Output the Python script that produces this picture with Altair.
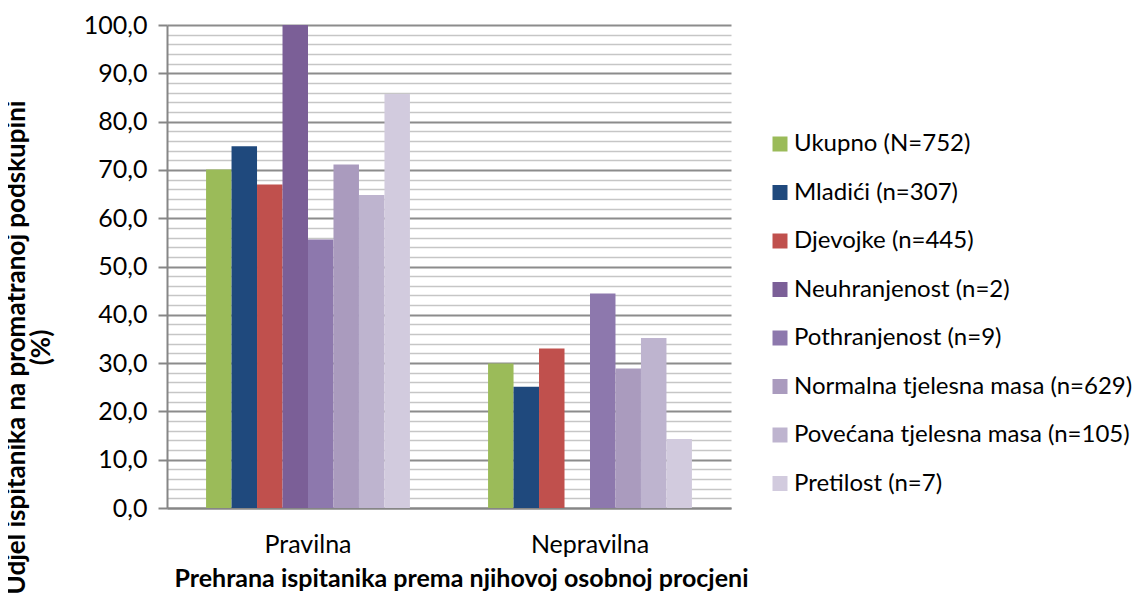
import altair as alt
import pandas as pd

categories = ["Pravilna", "Nepravilna"]
series = [
    "Ukupno (N=752)",
    "Mladići (n=307)",
    "Djevojke (n=445)",
    "Neuhranjenost (n=2)",
    "Pothranjenost (n=9)",
    "Normalna tjelesna masa (n=629)",
    "Povećana tjelesna masa (n=105)",
    "Pretilost (n=7)",
]
colors = ["#9BBB59", "#1F497D", "#C0504D", "#7B5F97", "#8D78AD", "#AA9BBE", "#BEB4CF", "#D2CBDE"]
pravilna = [70.1, 74.9, 67.0, 100.0, 55.6, 71.1, 64.8, 85.7]
nepravilna = [29.9, 25.1, 33.0, 0.0, 44.4, 28.9, 35.2, 14.3]

rows = []
for s, a, b in zip(series, pravilna, nepravilna):
    rows.append({"kat": categories[0], "serija": s, "vrijednost": a})
    rows.append({"kat": categories[1], "serija": s, "vrijednost": b})
df = pd.DataFrame(rows)

FONT = "Lato"
FS = 25
major = "datum.value % 10 == 0"

chart = alt.Chart(df).mark_bar().encode(
    x=alt.X("kat:N", sort=categories,
            scale=alt.Scale(paddingInner=0.277, paddingOuter=0.1385),
            axis=alt.Axis(title="Prehrana ispitanika prema njihovoj osobnoj procjeni",
                          labelAngle=0, ticks=False, grid=False,
                          domainColor="#868686", domainWidth=2,
                          labelFontSize=FS, labelPadding=24, labelColor="#000",
                          labelFont=FONT,
                          titleFont=FONT, titleFontSize=FS, titleFontWeight="bold",
                          titleColor="#000", titlePadding=9,
                          titleX=294, titleAlign="center")),
    xOffset=alt.XOffset("serija:N", sort=series,
                        scale=alt.Scale(paddingInner=0, paddingOuter=0)),
    y=alt.Y("vrijednost:Q",
            scale=alt.Scale(domain=[0, 100], nice=False),
            axis=alt.Axis(title=["Udjel ispitanika na promatranoj podskupini", "(%)"],
                          values=list(range(0, 101, 2)),
                          labelExpr="datum.value % 10 == 0 ? replace(format(datum.value, '.1f'), '.', ',') : ''",
                          grid=True,
                          gridColor=alt.condition(major, alt.value("#8C8C8C"), alt.value("#C6C6C6")),
                          gridWidth=alt.condition(major, alt.value(2), alt.value(1.5)),
                          tickSize=alt.condition(major, alt.value(9), alt.value(0)),
                          tickColor="#868686", tickWidth=2,
                          domainColor="#868686", domainWidth=2,
                          labelFontSize=FS, labelPadding=11, labelColor="#000",
                          labelFont=FONT,
                          titleFont=FONT, titleFontSize=26, titleFontWeight="bold",
                          titleColor="#000", titleAngle=-90,
                          titleX=-151, titleY=322, titleAlign="center",
                          titleBaseline="middle", titleLineHeight=25)),
    color=alt.Color("serija:N", sort=series,
                    scale=alt.Scale(domain=series, range=colors),
                    legend=alt.Legend(title=None, orient="none",
                                      legendX=601, legendY=107,
                                      symbolType="square", symbolSize=225,
                                      symbolStrokeWidth=0,
                                      labelFontSize=24, labelFont=FONT,
                                      labelColor="#000", rowPadding=24.5,
                                      labelOffset=2, labelLimit=400)),
).properties(
    width=564, height=483,
    autosize=alt.AutoSizeParams(type="none"),
    padding={"left": 159, "top": 17, "right": 405, "bottom": 86},
).configure_view(stroke=None)

chart.save("out.html", embed_options={"renderer": "svg", "actions": False})
